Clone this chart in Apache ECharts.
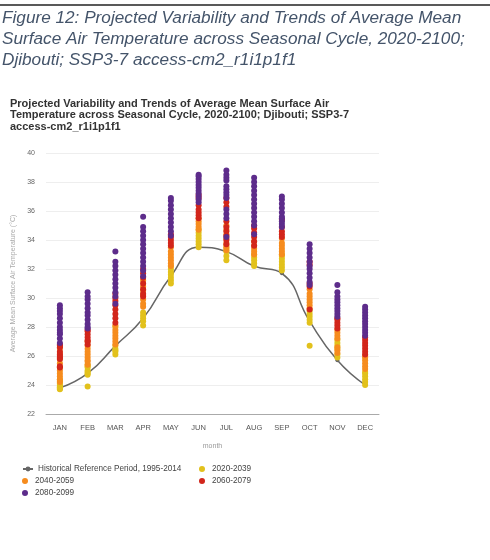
<!DOCTYPE html>
<html>
<head>
<meta charset="utf-8">
<script src="https://cdn.jsdelivr.net/npm/echarts@6/dist/echarts.min.js"></script>
<style>
html,body{margin:0;padding:0;background:#fff;}
#chart{width:490px;height:560px;}
</style>
</head>
<body>
<div id="chart"></div>
<script>
const months = ['JAN','FEB','MAR','APR','MAY','JUN','JUL','AUG','SEP','OCT','NOV','DEC'];
const yTicks = [22,24,26,28,30,32,34,36,38,40];
const historical = [23.8, 24.8, 26.7, 28.6, 31.5, 33.5, 33.2, 32.2, 31.7, 28.4, 25.7, 24.0];

const p2020 = [
  [23.7, 23.8, 23.9, 24.0, 24.1, 24.2, 23.75, 24.3, 23.85, 24.4],
  [23.9, 24.7, 24.8, 25.0, 25.2, 25.4, 24.9, 25.3],
  [26.1, 26.3, 26.5, 26.7, 28.0, 26.4],
  [28.1, 28.4, 28.6, 28.8, 29.0],
  [31.0, 31.2, 31.4, 31.6, 31.8, 32.0, 32.2],
  [33.5, 33.7, 33.9, 34.1, 34.3, 34.5, 34.7],
  [32.6, 32.9, 33.2, 33.4, 33.6],
  [32.2, 32.4, 32.6, 32.8, 33.0],
  [31.9, 32.1, 32.3, 32.5, 32.7, 32.9, 33.0],
  [26.7, 28.3, 28.5, 28.7, 28.9, 29.1],
  [25.9, 26.1, 26.5, 26.7, 26.9, 27.1],
  [24.0, 24.2, 24.4, 24.6, 24.8, 24.9]
];
const p2040 = [
  [24.2, 24.4, 24.6, 24.8, 25.0, 25.2, 25.5, 25.8, 26.2, 26.5],
  [25.4, 25.7, 25.9, 26.1, 26.3, 26.5, 26.7, 27.0, 25.6],
  [26.8, 27.0, 27.2, 27.4, 27.6, 27.8, 28.1],
  [29.4, 29.6, 29.9, 30.2, 30.5, 30.8, 31.2],
  [32.2, 32.4, 32.6, 32.8, 33.0, 33.2, 33.5],
  [34.7, 34.9, 35.1, 35.3, 35.5],
  [33.3, 33.5, 33.8, 34.1, 34.4, 34.7, 35.0],
  [33.0, 33.2, 33.4, 33.6, 33.9],
  [33.0, 33.2, 33.4, 33.6, 33.8, 34.1],
  [29.3, 29.5, 29.7, 29.9, 30.1, 30.3, 30.6],
  [26.2, 26.4, 26.6, 27.2, 27.4, 27.6, 27.8],
  [25.1, 25.3, 25.5, 25.7, 25.9, 26.0]
];
const p2060 = [
  [25.2, 25.3, 25.8, 25.9, 26.0, 26.1, 26.3, 26.6, 26.7, 26.8],
  [26.8, 27.0, 27.1, 27.3, 27.5, 27.7, 27.8],
  [28.3, 28.6, 28.9, 29.2, 29.5, 29.8, 30.0, 30.3],
  [30.1, 30.3, 30.6, 31.0, 31.4, 31.7, 32.0],
  [33.6, 33.8, 34.0, 34.2, 34.4],
  [35.5, 35.7, 35.9, 36.1, 36.4, 36.9, 37.1],
  [33.7, 34.0, 34.3, 34.6, 34.9, 35.3, 36.3, 36.6, 36.9],
  [33.6, 33.9, 34.2, 34.5, 34.8, 35.0],
  [34.2, 34.4, 34.6, 34.9, 35.4],
  [29.2, 30.8, 31.0, 32.5, 32.3],
  [27.9, 28.1, 28.3, 28.5, 28.6],
  [26.1, 26.3, 26.5, 26.7, 26.9, 27.1, 27.3]
];
const p2080 = [
  [26.9, 27.2, 27.5, 27.8, 28.0, 28.3, 28.6, 28.9, 29.1, 29.3, 29.5, 27.6],
  [27.9, 28.2, 28.5, 28.8, 29.0, 29.3, 29.6, 29.9, 30.1, 30.4, 28.0],
  [30.1, 30.4, 30.7, 31.0, 31.3, 31.6, 31.9, 32.2, 32.5, 33.2, 29.6],
  [31.9, 32.2, 32.5, 32.8, 33.1, 33.4, 33.7, 34.0, 34.3, 34.6, 34.9, 35.6, 31.5],
  [34.3, 34.6, 34.9, 35.2, 35.5, 35.8, 36.1, 36.4, 36.7, 36.9],
  [36.6, 36.8, 37.0, 37.2, 37.4, 37.6, 37.8, 38.0, 38.2, 38.4, 38.5],
  [35.5, 35.8, 36.1, 36.9, 37.1, 37.3, 37.5, 37.7, 38.1, 38.3, 38.5, 38.8, 34.2],
  [35.0, 35.3, 35.6, 35.9, 36.2, 36.5, 36.8, 37.1, 37.4, 37.7, 38.0, 38.3, 34.4],
  [34.9, 35.1, 35.3, 35.6, 35.9, 36.2, 36.5, 36.8, 37.0, 35.5],
  [30.9, 31.1, 31.4, 31.7, 32.0, 32.2, 32.5, 32.8, 33.1, 33.4, 33.7],
  [28.7, 28.9, 29.1, 29.3, 29.5, 29.7, 29.9, 30.1, 30.4, 30.9],
  [27.4, 27.6, 27.8, 28.0, 28.2, 28.4, 28.6, 28.8, 29.0, 29.2, 29.4]
];

const names = {
  hist: 'Historical Reference Period, 1995-2014',
  a: '2020-2039', b: '2040-2059', c: '2060-2079', d: '2080-2099'
};
const colors = { hist: '#666666', a: '#e2c11c', b: '#f68c1e', c: '#d2261b', d: '#5d2c8b' };

function toPts(arr) {
  const out = [];
  arr.forEach((vals, i) => vals.forEach(v => out.push([months[i], v])));
  return out;
}

const FONT = '"Liberation Sans", Arial, Helvetica, sans-serif';

function scatter(key, arr) {
  return {
    name: names[key], type: 'scatter', data: toPts(arr),
    symbolSize: 6, itemStyle: { color: colors[key], opacity: 1 }, z: 3
  };
}

const legendBase = {
  itemWidth: 10, itemHeight: 6, itemGap: 4, padding: 0,
  textStyle: { fontSize: 8.2, color: '#444', fontFamily: FONT }
};
function leg(name, left, top) {
  return Object.assign({}, legendBase, { data: [name], left: left, top: top });
}

const chart = echarts.init(document.getElementById('chart'), null, { renderer: 'canvas' });
chart.setOption({
  backgroundColor: '#ffffff',
  animation: false,
  textStyle: { fontFamily: FONT },
  graphic: [
    { type: 'line', shape: { x1: 0, y1: 5, x2: 490, y2: 5 }, style: { stroke: '#222', lineWidth: 1.5 } }
  ],
  title: [
    {
      text: 'Figure 12: Projected Variability and Trends of Average Mean\nSurface Air Temperature across Seasonal Cycle, 2020-2100;\nDjibouti; SSP3-7 access-cm2_r1i1p1f1',
      left: 2, top: 8, padding: 0,
      textStyle: { fontSize: 17.2, fontStyle: 'italic', fontWeight: 'normal', color: '#44546a', lineHeight: 21, fontFamily: FONT }
    },
    {
      text: 'Projected Variability and Trends of Average Mean Surface Air\nTemperature across Seasonal Cycle, 2020-2100; Djibouti; SSP3-7\naccess-cm2_r1i1p1f1',
      left: 10, top: 98, padding: 0,
      textStyle: { fontSize: 11, fontWeight: 'bold', color: '#333', lineHeight: 11.5, fontFamily: FONT }
    }
  ],
  legend: [
    leg(names.hist, 22, 465),
    leg(names.a, 199, 465),
    leg(names.b, 22, 477),
    leg(names.c, 199, 477),
    leg(names.d, 22, 489)
  ],
  grid: { left: 46, right: 111, top: 153, bottom: 146, containLabel: false },
  xAxis: {
    type: 'category', data: months, boundaryGap: true,
    name: 'month', nameLocation: 'middle', nameGap: 29,
    nameTextStyle: { fontSize: 7, color: '#999', fontFamily: FONT },
    axisLine: { show: true, lineStyle: { color: '#aaa', width: 1 } },
    axisTick: { show: false },
    axisLabel: { fontSize: 7.5, color: '#555', margin: 10, interval: 0, fontFamily: FONT }
  },
  yAxis: {
    type: 'value', min: 22, max: 40, interval: 2,
    name: 'Average Mean Surface Air Temperature (°C)', nameLocation: 'middle', nameGap: 29,
    nameTextStyle: { fontSize: 7, color: '#aaa', fontFamily: FONT },
    axisLine: { show: false }, axisTick: { show: false },
    axisLabel: { fontSize: 7, color: '#666', margin: 11, fontFamily: FONT,
      formatter: v => (yTicks.indexOf(v) >= 0 ? String(v) : '') },
    splitLine: { show: true, lineStyle: { color: '#eeeeee', width: 1 } }
  },
  series: [
    {
      name: names.hist, type: 'line', data: historical, smooth: true,
      symbol: 'circle', symbolSize: 4, showSymbol: true,
      lineStyle: { color: colors.hist, width: 1.5 }, itemStyle: { color: colors.hist }, z: 2
    },
    scatter('a', p2020),
    scatter('b', p2040),
    scatter('c', p2060),
    scatter('d', p2080)
  ]
});
</script>
</body>
</html>
